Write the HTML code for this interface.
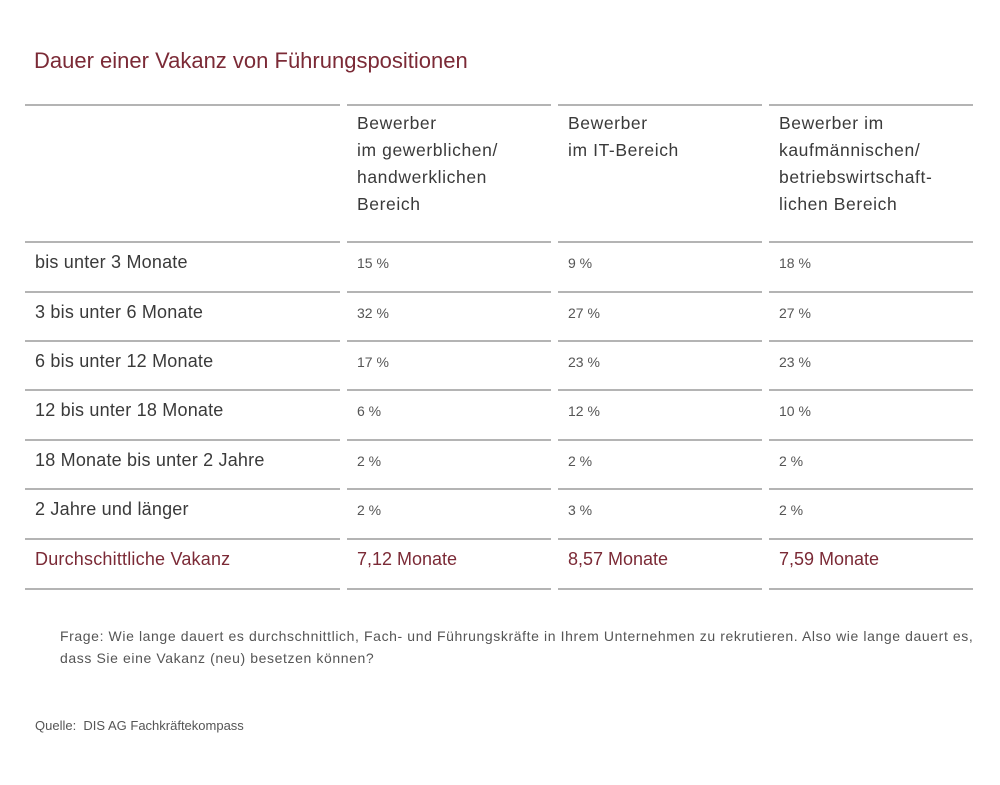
<!DOCTYPE html>
<html><head><meta charset="utf-8"><style>
body{margin:0;width:1000px;height:785px;background:#fff;position:relative;font-family:"Liberation Sans",sans-serif;color:#3a3a3a;overflow:hidden}
.t{position:absolute;white-space:nowrap}
.l{position:absolute;height:2px;background:#b4b4b4}
.h{font-size:17.5px;line-height:27px;letter-spacing:0.6px}
.v{font-size:14px;color:#555}
.r{color:#7b2a36}
</style></head><body>
<div class="t r" style="left:34px;top:48px;font-size:22px">Dauer einer Vakanz von Führungspositionen</div>
<div id="lines"></div>
<div class="t h" style="left:357px;top:110px">Bewerber<br>im gewerblichen/<br>handwerklichen<br>Bereich</div>
<div class="t h" style="left:568px;top:110px">Bewerber<br>im IT-Bereich</div>
<div class="t h" style="left:779px;top:110px">Bewerber im<br>kaufmännischen/<br>betriebswirtschaft-<br>lichen Bereich</div>
<script>
var ys=[104,241,291,340,389,439,488,538,588],xs=[[25,315],[347,204],[558,204],[769,204]],h='';
ys.forEach(function(y){xs.forEach(function(x){h+='<div class="l" style="left:'+x[0]+'px;top:'+y+'px;width:'+x[1]+'px"></div>';});});
var rows=[["bis unter 3 Monate","15 %","9 %","18 %"],["3 bis unter 6 Monate","32 %","27 %","27 %"],["6 bis unter 12 Monate","17 %","23 %","23 %"],["12 bis unter 18 Monate","6 %","12 %","10 %"],["18 Monate bis unter 2 Jahre","2 %","2 %","2 %"],["2 Jahre und länger","2 %","3 %","2 %"]];
rows.forEach(function(r,i){var y=ys[i+1];
h+='<div class="t" style="left:35px;top:'+(y+11)+'px;font-size:18px;letter-spacing:0.2px">'+r[0]+'</div>';
[357,568,779].forEach(function(x,j){h+='<div class="t v" style="left:'+x+'px;top:'+(y+14)+'px">'+r[j+1]+'</div>';});});
var y=538;
h+='<div class="t r" style="left:35px;top:'+(y+11)+'px;font-size:18px;letter-spacing:0.2px">Durchschittliche Vakanz</div>';
["7,12 Monate","8,57 Monate","7,59 Monate"].forEach(function(s,j){h+='<div class="t r" style="left:'+[357,568,779][j]+'px;top:'+(y+11)+'px;font-size:18px">'+s+'</div>';});
document.getElementById('lines').innerHTML=h;
</script>
<div class="t" style="left:60px;top:625px;font-size:14px;letter-spacing:0.6px;line-height:22px;color:#555">Frage: Wie lange dauert es durchschnittlich, Fach- und Führungskräfte in Ihrem Unternehmen zu rekrutieren. Also wie lange dauert es,<br>dass Sie eine Vakanz (neu) besetzen können?</div>
<div class="t" style="left:35px;top:718px;font-size:13px;color:#555">Quelle:&nbsp; DIS AG Fachkräftekompass</div>
</body></html>
